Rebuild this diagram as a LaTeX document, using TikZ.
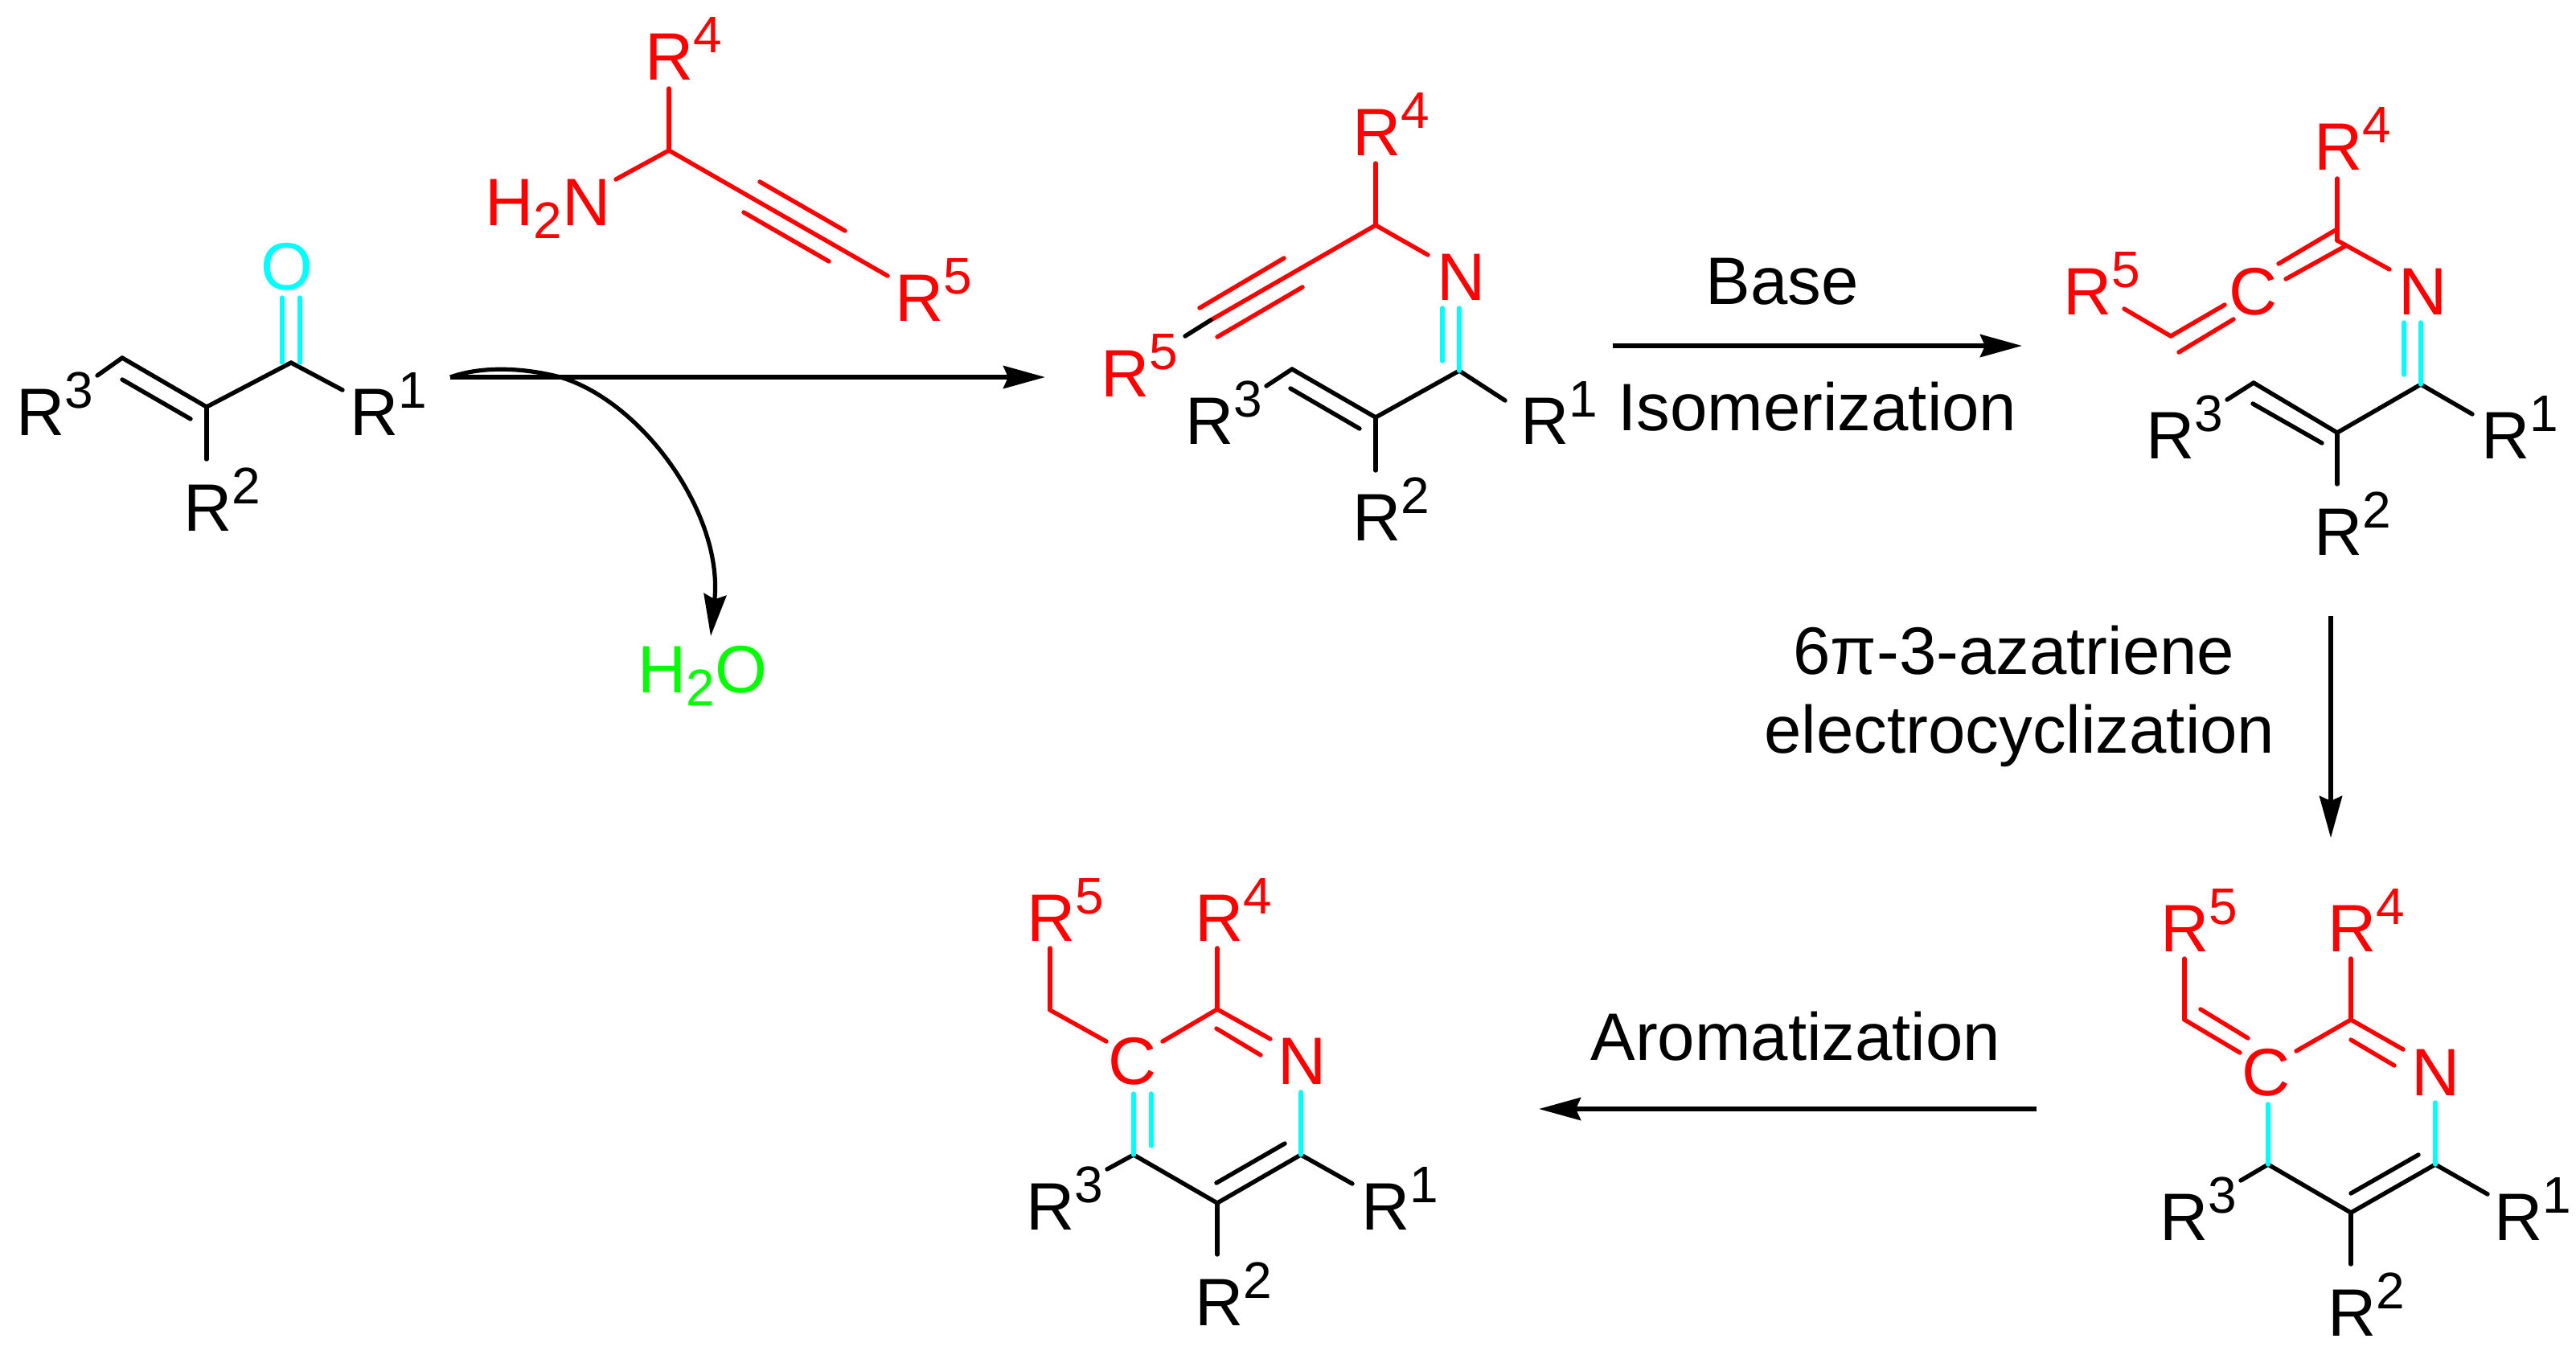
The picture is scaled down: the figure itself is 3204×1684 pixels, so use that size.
\documentclass[tikz,border=0pt]{standalone}
\usepackage{fontspec}
\setmainfont{Liberation Sans}
\usetikzlibrary{arrows.meta}
\newcommand{\Rlab}[1]{R\raisebox{8.5pt}{\fontsize{16}{16}\selectfont #1}}
\newcommand{\Hsub}{H\raisebox{-4.2pt}{\fontsize{16}{16}\selectfont 2}}
\definecolor{bondcyan}{RGB}{0,255,255}
\definecolor{bondred}{RGB}{255,0,0}
\definecolor{watergreen}{RGB}{0,255,0}
\tikzset{
  lbl/.style={anchor=base west,inner sep=0pt,xshift=-1.6pt,font=\fontsize{20.85}{25}\selectfont},
  redlbl/.style={lbl,text=bondred},
  bond/.style={line width=1.35pt,line cap=round},
  rxn/.style={line width=1.45pt,-{Stealth[length=13pt,width=7pt,inset=1.5pt]}}
}
\begin{document}
\begin{tikzpicture}[x=0.25pt,y=-0.25pt]
  \useasboundingbox (0,0) rectangle (3204,1684);
  % enone
  \draw
    (26,541) node[lbl] (e3){\Rlab{3}}
    (234,660) node[lbl] (e2){\Rlab{2}}
    (441,541) node[lbl] (e1){\Rlab{1}}
    (330,360) node[lbl,text=bondcyan] (eo){O};
  \path (121,467) coordinate (ea) (152,445) coordinate (eb) (257,506) coordinate (ec)
    (362,451) coordinate (ed) (426,485) coordinate (ee) (257,571) coordinate (ef)
    (152,472) coordinate (eg) (237,521) coordinate (eh)
    (351,451) coordinate (ei) (351,370) coordinate (ej)
    (373,451) coordinate (ek) (373,370) coordinate (el);
  \begin{scope}[bond]
    \draw (ea) to (eb);
    \draw (eb) to (ec);
    \draw (eg) to (eh);
    \draw (ec) to (ed);
    \draw (ed) to (ee);
    \draw (ec) to (ef);
    \draw[bondcyan] (ei) to (ej);
    \draw[bondcyan] (ek) to (el);
  \end{scope}
  % amine
  \draw
    (808,99) node[redlbl] (a4){\Rlab{4}}
    (609,280) node[redlbl] (an){\Hsub N}
    (1119,399) node[redlbl] (a5){\Rlab{5}};
  \path (832,110) coordinate (aa) (832,187) coordinate (ab) (766,223) coordinate (ac)
    (1104,343) coordinate (ad) (945,226) coordinate (ae) (1051,287) coordinate (af)
    (925,264) coordinate (ag) (1031,325) coordinate (ah);
  \begin{scope}[bond,bondred]
    \draw (aa) to (ab);
    \draw (ab) to (ac);
    \draw (ab) to (ad);
    \draw (ae) to (af);
    \draw (ag) to (ah);
  \end{scope}
  % imine
  \draw
    (1688,193) node[redlbl] (i4){\Rlab{4}}
    (1793,373) node[redlbl] (in){N}
    (1375,493) node[redlbl] (i5){\Rlab{5}}
    (1480,552) node[lbl] (i3){\Rlab{3}}
    (1897,552) node[lbl] (i1){\Rlab{1}}
    (1688,672) node[lbl] (i2){\Rlab{2}};
  \path (1711,203) coordinate (ia) (1711,280) coordinate (ib) (1776,317) coordinate (ic)
    (1506,398) coordinate (id) (1474,418) coordinate (ie)
    (1597,321) coordinate (if) (1492,383) coordinate (ig)
    (1620,357) coordinate (ih) (1514,419) coordinate (ii)
    (1794,383) coordinate (ij) (1794,449) coordinate (ik)
    (1815,383) coordinate (il) (1815,461) coordinate (im)
    (1872,498) coordinate (io) (1711,519) coordinate (ip) (1607,459) coordinate (iq)
    (1605,483) coordinate (ir) (1691,533) coordinate (is)
    (1575,480) coordinate (it) (1711,585) coordinate (iu);
  \begin{scope}[bond,bondred]
    \draw (ia) to (ib);
    \draw (ib) to (ic);
    \draw (ib) to (id);
    \draw (if) to (ig);
    \draw (ih) to (ii);
  \end{scope}
  \begin{scope}[bond]
    \draw (id) to (ie);
    \draw (im) to (io);
    \draw (im) to (ip);
    \draw (ip) to (iq);
    \draw (ir) to (is);
    \draw (iq) to (it);
    \draw (ip) to (iu);
    \draw[bondcyan] (ij) to (ik);
    \draw[bondcyan] (il) to (im);
  \end{scope}
  % allene
  \draw
    (2884,211) node[redlbl] (l4){\Rlab{4}}
    (2989,391) node[redlbl] (ln){N}
    (2778,391) node[redlbl] (lc){C}
    (2572,391) node[redlbl] (l5){\Rlab{5}}
    (2675,570) node[lbl] (l3){\Rlab{3}}
    (3092,570) node[lbl] (l1){\Rlab{1}}
    (2884,690) node[lbl] (l2){\Rlab{2}};
  \path (2907,222) coordinate (la) (2907,299) coordinate (lb) (2972,335) coordinate (ld)
    (2905,286) coordinate (le) (2834,328) coordinate (lf)
    (2917,306) coordinate (lg) (2843,347) coordinate (lh)
    (2767,379) coordinate (li) (2700,418) coordinate (lj)
    (2778,397) coordinate (lk) (2710,438) coordinate (lm)
    (2642,384) coordinate (lo)
    (2990,401) coordinate (lp) (2990,466) coordinate (lq)
    (3011,401) coordinate (lr) (3011,478) coordinate (ls)
    (3075,515) coordinate (lt) (2907,538) coordinate (lu) (2803,476) coordinate (lv)
    (2802,502) coordinate (lw) (2888,551) coordinate (lx)
    (2770,497) coordinate (ly) (2907,602) coordinate (lz);
  \begin{scope}[bond,bondred]
    \draw (la) to (lb);
    \draw (lb) to (ld);
    \draw (le) to (lf);
    \draw (lg) to (lh);
    \draw (li) to (lj);
    \draw (lk) to (lm);
    \draw (lj) to (lo);
  \end{scope}
  \begin{scope}[bond]
    \draw (ls) to (lt);
    \draw (ls) to (lu);
    \draw (lu) to (lv);
    \draw (lw) to (lx);
    \draw (lv) to (ly);
    \draw (lu) to (lz);
    \draw[bondcyan] (lp) to (lq);
    \draw[bondcyan] (lr) to (ls);
  \end{scope}
  % ring, exocyclic C=C
  \draw
    (2693,1183) node[redlbl] (r5){\Rlab{5}}
    (2901,1183) node[redlbl] (r4){\Rlab{4}}
    (2794,1362) node[redlbl] (rc){C}
    (3005,1362) node[redlbl] (rn){N}
    (2692,1542) node[lbl] (r3){\Rlab{3}}
    (3108,1542) node[lbl] (r1){\Rlab{1}}
    (2901,1661) node[lbl] (r2){\Rlab{2}};
  \path (2717,1192) coordinate (ra) (2717,1268) coordinate (rb) (2786,1309) coordinate (rd)
    (2737,1255) coordinate (re) (2796,1291) coordinate (rf)
    (2924,1192) coordinate (rg) (2924,1268) coordinate (rh) (2856,1307) coordinate (ri)
    (2989,1305) coordinate (rj) (2924,1293) coordinate (rk) (2978,1325) coordinate (rl)
    (2821,1373) coordinate (rm) (2821,1448) coordinate (ro)
    (3029,1371) coordinate (rp) (3029,1448) coordinate (rq)
    (2787,1468) coordinate (rr) (2924,1508) coordinate (rs)
    (2924,1484) coordinate (rt) (3008,1436) coordinate (ru)
    (3094,1485) coordinate (rv) (2924,1572) coordinate (rw);
  \begin{scope}[bond,bondred]
    \draw (ra) to (rb);
    \draw (rb) to (rd);
    \draw (re) to (rf);
    \draw (rg) to (rh);
    \draw (rh) to (ri);
    \draw (rh) to (rj);
    \draw (rk) to (rl);
  \end{scope}
  \begin{scope}[bond]
    \draw (ro) to (rr);
    \draw (ro) to (rs);
    \draw (rs) to (rq);
    \draw (rt) to (ru);
    \draw (rq) to (rv);
    \draw (rs) to (rw);
    \draw[bondcyan] (rm) to (ro);
    \draw[bondcyan] (rp) to (rq);
  \end{scope}
  % ring, aromatized
  \draw
    (1283,1170) node[redlbl] (p5){\Rlab{5}}
    (1492,1170) node[redlbl] (p4){\Rlab{4}}
    (1384,1348) node[redlbl] (pc){C}
    (1595,1348) node[redlbl] (pn){N}
    (1282,1529) node[lbl] (p3){\Rlab{3}}
    (1699,1529) node[lbl] (p1){\Rlab{1}}
    (1492,1648) node[lbl] (p2){\Rlab{2}};
  \path (1306,1179) coordinate (pa) (1306,1256) coordinate (pb) (1376,1295) coordinate (pd)
    (1514,1179) coordinate (pe) (1514,1255) coordinate (pf) (1446,1295) coordinate (pg)
    (1580,1292) coordinate (ph) (1513,1279) coordinate (pi) (1568,1312) coordinate (pj)
    (1410,1360) coordinate (pk) (1410,1436) coordinate (pl)
    (1432,1360) coordinate (pm) (1432,1425) coordinate (po)
    (1618,1358) coordinate (pp) (1618,1436) coordinate (pq)
    (1377,1454) coordinate (pr) (1514,1496) coordinate (ps)
    (1513,1471) coordinate (pt) (1598,1422) coordinate (pu)
    (1682,1472) coordinate (pv) (1514,1560) coordinate (pw);
  \begin{scope}[bond,bondred]
    \draw (pa) to (pb);
    \draw (pb) to (pd);
    \draw (pe) to (pf);
    \draw (pf) to (pg);
    \draw (pf) to (ph);
    \draw (pi) to (pj);
  \end{scope}
  \begin{scope}[bond]
    \draw (pl) to (pr);
    \draw (pl) to (ps);
    \draw (ps) to (pq);
    \draw (pt) to (pu);
    \draw (pq) to (pv);
    \draw (ps) to (pw);
    \draw[bondcyan] (pk) to (pl);
    \draw[bondcyan] (pm) to (po);
    \draw[bondcyan] (pp) to (pq);
  \end{scope}
  % arrows and conditions
  \draw
    (799,861) node[lbl,text=watergreen] (water){\Hsub O}
    (2127,378) node[lbl] (base){Base}
    (2018,535) node[lbl] (isom){Isomerization}
    (2236,838) node[lbl] (six){6π-3-azatriene}
    (2200,936) node[lbl] (elec){electrocyclization}
    (1984,1318) node[lbl] (arom){Aromatization};
  \path (560,469) coordinate (s1) (1300,469) coordinate (t1) (697,469) coordinate (m1)
    (884,791) coordinate (t2)
    (2006,430) coordinate (s3) (2515,430) coordinate (t3)
    (2899,766) coordinate (s4) (2899,1042) coordinate (t4)
    (2533,1379) coordinate (s5) (1914,1379) coordinate (t5);
  \draw[rxn] (s1) to (t1);
  \draw[rxn,line width=1.3pt] (s1) .. controls (600,455) and (650,457) .. (m1) .. controls (800,500) and (900,640) .. (t2);
  \draw[rxn] (s3) to (t3);
  \draw[rxn] (s4) to (t4);
  \draw[rxn] (s5) to (t5);
\end{tikzpicture}
\end{document}
